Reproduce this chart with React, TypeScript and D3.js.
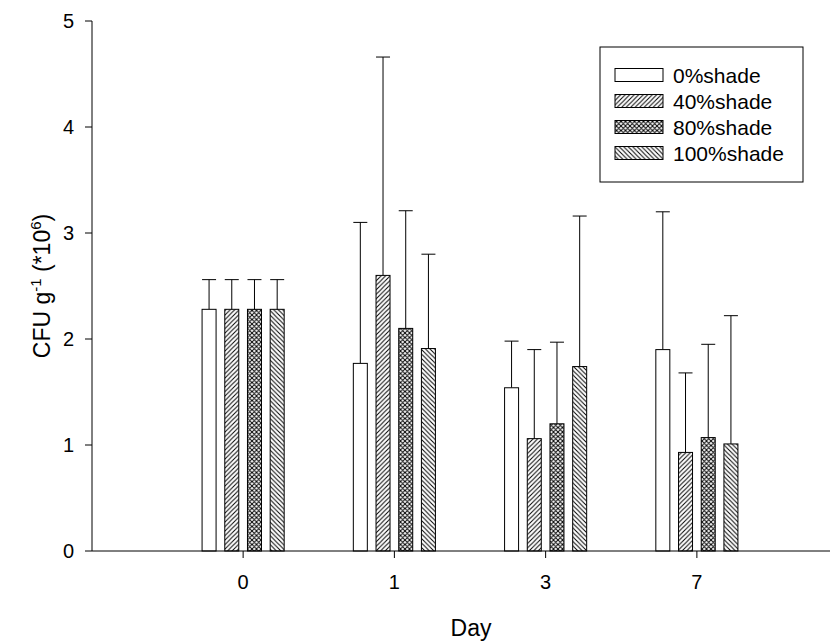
import React from 'react';
import * as d3 from 'd3';

const width = 838;
const height = 643;

const days = ['0', '1', '3', '7'];
const seriesNames = ['0%shade', '40%shade', '80%shade', '100%shade'];

// mean CFU g-1 (*10^6) per day
const shade0 = [2.28, 1.77, 1.54, 1.9];
const shade40 = [2.28, 2.6, 1.06, 0.93];
const shade80 = [2.28, 2.1, 1.2, 1.07];
const shade100 = [2.28, 1.91, 1.74, 1.01];

// upper error (sd)
const sd0 = [0.28, 1.33, 0.44, 1.3];
const sd40 = [0.28, 2.06, 0.84, 0.75];
const sd80 = [0.28, 1.11, 0.77, 0.88];
const sd100 = [0.28, 0.89, 1.42, 1.21];

const yTicks = [0, 1, 2, 3, 4, 5];

const means = [shade0, shade40, shade80, shade100];
const sds = [sd0, sd40, sd80, sd100];
const fills = ['#fff', 'url(#p40)', 'url(#p80)', 'url(#p100)'];

const font = 'Liberation Sans, Arial, Helvetica, sans-serif';

const App: React.FC = () => {
  const x = d3.scaleBand().domain(days).range([167.5, 772.5]).padding(0);
  const inner = d3.scaleBand().domain(seriesNames).range([-45.4, 45.4]).padding(0);
  const y = d3.scaleLinear().domain([0, 5]).range([551, 21]);
  const barW = 14;
  const axisLeft = 92;
  const axisRight = 830;

  const bars = [] as { key: string; cx: number; v: number; sd: number; fill: string }[];
  seriesNames.forEach((s, si) => {
    days.forEach((d, di) => {
      bars.push({
        key: s + d,
        cx: (x(d) as number) + x.bandwidth() / 2 + (inner(s) as number) + inner.bandwidth() / 2,
        v: means[si][di],
        sd: sds[si][di],
        fill: fills[si],
      });
    });
  });

  const legendX = 600;
  const legendY = 47;
  const rowY = d3.scaleLinear().domain([0, 3]).range([75, 153]);

  return (
    <svg
      width={width}
      height={height}
      style={{ position: 'absolute', left: 0, top: 0, background: '#fff' }}
      fontFamily={font}
    >
      <defs>
        <pattern id="p40" patternUnits="userSpaceOnUse" width="4.5" height="4.5">
          <path d="M-1,1 L1,-1 M0,4.5 L4.5,0 M3.5,5.5 L5.5,3.5" stroke="#000" strokeWidth="1" />
        </pattern>
        <pattern id="p100" patternUnits="userSpaceOnUse" width="4.5" height="4.5">
          <path d="M-1,3.5 L1,5.5 M0,0 L4.5,4.5 M3.5,-1 L5.5,1" stroke="#000" strokeWidth="1" />
        </pattern>
        <pattern id="p80" patternUnits="userSpaceOnUse" width="4.5" height="4.5">
          <path
            d="M-1,1 L1,-1 M0,4.5 L4.5,0 M3.5,5.5 L5.5,3.5 M-1,3.5 L1,5.5 M0,0 L4.5,4.5 M3.5,-1 L5.5,1"
            stroke="#000"
            strokeWidth="1"
          />
        </pattern>
      </defs>

      {/* error bars (upper only) */}
      {bars.map(b => (
        <g key={'e' + b.key} stroke="#000" strokeWidth={1}>
          <line x1={b.cx} x2={b.cx} y1={y(b.v)} y2={y(b.v + b.sd)} />
          <line x1={b.cx - barW / 2} x2={b.cx + barW / 2} y1={y(b.v + b.sd)} y2={y(b.v + b.sd)} />
        </g>
      ))}

      {bars.map(b => (
        <rect
          key={'b' + b.key}
          x={b.cx - barW / 2}
          y={y(b.v)}
          width={barW}
          height={y(0) - y(b.v)}
          fill={b.fill}
          stroke="#000"
          strokeWidth={1}
        />
      ))}

      {/* y axis */}
      <line x1={axisLeft} x2={axisLeft} y1={y(5)} y2={y(0)} stroke="#000" />
      {yTicks.map(t => (
        <g key={'yt' + t}>
          <line x1={axisLeft - 7} x2={axisLeft} y1={y(t)} y2={y(t)} stroke="#000" />
          <text x={axisLeft - 18} y={y(t)} dy="0.36em" textAnchor="end" fontSize={20} fill="#000">
            {t}
          </text>
        </g>
      ))}

      {/* x axis */}
      <line x1={axisLeft} x2={axisRight} y1={y(0)} y2={y(0)} stroke="#000" />
      {days.map(d => {
        const cx = (x(d) as number) + x.bandwidth() / 2;
        return (
          <g key={'xt' + d}>
            <line x1={cx} x2={cx} y1={y(0)} y2={y(0) + 7} stroke="#000" />
            <text x={cx} y={589} textAnchor="middle" fontSize={20} fill="#000">
              {d}
            </text>
          </g>
        );
      })}

      <text x={471} y={636} textAnchor="middle" fontSize={23} fill="#000">
        Day
      </text>

      <text
        transform={`translate(50,${(y(0) + y(5)) / 2}) rotate(-90)`}
        textAnchor="middle"
        fontSize={23}
        fill="#000"
      >
        CFU g
        <tspan fontSize={15} dy={-9}>-1</tspan>
        <tspan dy={9}> (*10</tspan>
        <tspan fontSize={15} dy={-9}>6</tspan>
        <tspan dy={9}>)</tspan>
      </text>

      {/* legend */}
      <rect x={legendX} y={legendY} width={203} height={135} fill="#fff" stroke="#000" />
      {seriesNames.map((s, i) => (
        <g key={'lg' + s}>
          <rect
            x={615}
            y={rowY(i) - 6.5}
            width={48}
            height={13}
            fill={fills[i]}
            stroke="#000"
            strokeWidth={1}
          />
          <text x={673} y={rowY(i)} dy="0.36em" fontSize={21} fill="#000">
            {s}
          </text>
        </g>
      ))}
    </svg>
  );
};

export default App;
